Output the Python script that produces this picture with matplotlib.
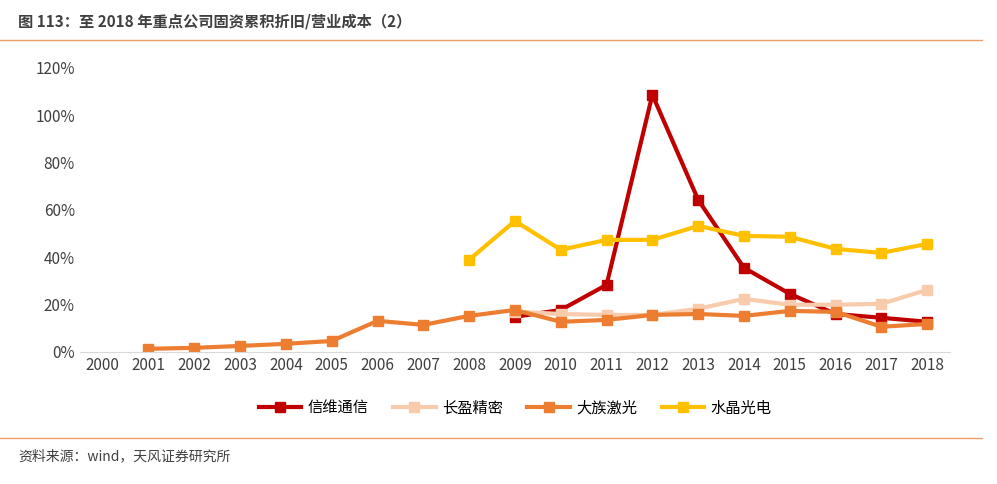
import matplotlib.pyplot as plt
from matplotlib.lines import Line2D

plt.rcParams['font.family'] = ['Noto Sans CJK SC', 'DejaVu Sans']

years = list(range(2000, 2019))
xinwei_years = list(range(2009, 2019))
xinwei = [14.8, 17.7, 28.3, 108.6, 64.2, 35.5, 24.5, 16.0, 14.4, 12.7]
changying_years = list(range(2009, 2019))
changying = [17.0, 16.0, 15.6, 15.6, 18.2, 22.4, 19.9, 19.9, 20.3, 26.2]
dazu_years = list(range(2001, 2019))
dazu = [1.3, 1.7, 2.5, 3.4, 4.6, 13.1, 11.4, 15.2, 17.7, 12.7, 13.5, 15.6, 16.0, 15.2, 17.3, 16.9, 10.6, 11.8]
shuijing_years = list(range(2008, 2019))
shuijing = [38.9, 55.3, 43.1, 47.3, 47.3, 53.2, 49.0, 48.6, 43.5, 41.8, 45.6]

fig = plt.figure(figsize=(9.97, 4.84), dpi=100)
ax = fig.add_axes([0.08, 0.273, 0.873, 0.587])

series = [
    (xinwei_years, xinwei, '#C00000', '信维通信'),
    (changying_years, changying, '#F8CBAD', '长盈精密'),
    (dazu_years, dazu, '#ED7D31', '大族激光'),
    (shuijing_years, shuijing, '#FFC000', '水晶光电'),
]
for xs, ys, c, lab in series:
    ax.plot(xs, ys, color=c, lw=3, marker='s', ms=7, label=lab)

ax.set_xlim(1999.5, 2018.5)
ax.set_ylim(0, 120)
ax.set_xticks(years)
ax.set_xticklabels([str(y) for y in years], fontsize=11, color='#404040')
ax.set_yticks(range(0, 121, 20))
ax.set_yticklabels([f'{v}%' for v in range(0, 121, 20)], fontsize=11, color='#404040')
ax.tick_params(length=0)
for s in ['top', 'right', 'left']:
    ax.spines[s].set_visible(False)
ax.spines['bottom'].set_color('#D9D9D9')

ax.legend(loc='upper center', bbox_to_anchor=(0.5, -0.12), ncol=4, frameon=False,
          fontsize=11, handlelength=2.8, handletextpad=0.4, columnspacing=1.6)

fig.text(0.018, 0.955, '图 113：至 2018 年重点公司固资累积折旧/营业成本（2）', fontsize=11,
         fontweight='bold', color='#404040', va='center')
fig.add_artist(Line2D([0.0, 0.985], [0.917, 0.917], color='#ED9E6B', lw=1))
fig.add_artist(Line2D([0.0, 0.985], [0.095, 0.095], color='#ED9E6B', lw=1))
fig.text(0.018, 0.058, '资料来源：wind，天风证券研究所', fontsize=10, color='#404040', va='center')

fig.savefig('out.png')
